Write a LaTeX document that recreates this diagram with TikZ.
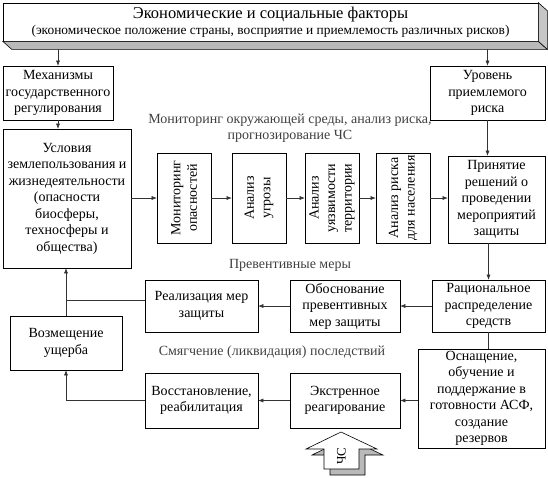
\documentclass[tikz,border=0pt]{standalone}
\usepackage{fontspec}
\setmainfont{Liberation Serif}
\usetikzlibrary{arrows.meta}

\begin{document}
\begin{tikzpicture}[
  x=1pt, y=-1pt,
  font=\fontsize{14}{16.5}\selectfont,
  box/.style   = {draw, line width=0.6pt, inner sep=2pt, align=center},
  vbox/.style  = {box, rotate=90, minimum width=90pt, minimum height=54pt},
                   % the analysis steps stand upright, text read from below
  arrow/.style = {line width=0.5pt, black!80, -{Latex[length=5pt,width=4pt]}},
  link/.style  = {line width=0.5pt, black!80},
  slab/.style  = {draw, line width=0.6pt, fill=gray!55},
  note/.style  = {align=center, text=black!75, inner sep=1pt},
]
  \useasboundingbox (0,0) rectangle (548,477);

  % the top block, drawn as a raised slab
  \node[box, minimum width=535pt, minimum height=38pt] (econ) at (270.5,22)
    {{\fontsize{16.5}{18}\selectfont Экономические и социальные факторы}\\{\fontsize{13.4}{16}\selectfont(экономическое положение страны, восприятие и приемлемость различных рисков)}};
  \draw[slab] (econ.south west) -- ++(9,8) -- ([shift={(9,8)}]econ.south east) -- (econ.south east) -- cycle;
  \draw[slab, fill=gray!45] (econ.north east) -- ++(9,8) -- ([shift={(9,8)}]econ.south east) -- (econ.south east) -- cycle;
  \coordinate (econb) at ([yshift=-8pt]econ.south);

  \node[box, minimum width=110pt, minimum height=54pt] (mech) at (58,93) {Механизмы\\государственного\\регулирования};
  \node[box, minimum width=115pt, minimum height=54pt] (lvl) at (487.5,93) {Уровень\\приемлемого\\риска};
  \node[box, minimum width=128pt, minimum height=139pt] (usl) at (67,198.5)
    {Условия\\землепользования и\\жизнедеятельности\\(опасности\\биосферы,\\техносферы и\\общества)};

  \node[note] (monlbl) at (290,128) {Мониторинг окружающей среды, анализ риска,\\прогнозирование ЧС};
  \node[vbox] (mon) at (184,198) {Мониторинг\\опасностей};
  \node[vbox] (ugr) at (259,198) {Анализ\\угрозы};
  \node[vbox] (uyaz) at (332,198) {Анализ\\уязвимости\\территории};
  \node[vbox] (risk) at (403,198) {Анализ риска\\для населения};
  \node[box, minimum width=97pt, minimum height=87pt] (prin) at (496.5,199.5) {Принятие\\решений о\\проведении\\мероприятий\\защиты};

  \node[note] (prevlbl) at (290,265) {Превентивные меры};
  \node[box, minimum width=113pt, minimum height=52pt] (rac) at (488.5,306) {Рациональное\\распределение\\средств};
  \node[box, minimum width=110pt, minimum height=52pt] (obos) at (345,306) {Обоснование\\превентивных\\мер защиты};
  \node[box, minimum width=113pt, minimum height=52pt] (real) at (201.5,306) {Реализация мер\\защиты};
  \node[box, minimum width=112pt, minimum height=54pt] (vozm) at (66,343) {Возмещение\\ущерба};

  \node[note] (mitlbl) at (272,352) {Смягчение (ликвидация) последствий};
  \node[box, minimum width=127pt, minimum height=97pt] (osn) at (481.5,398.5)
    {Оснащение,\\обучение и\\поддержание в\\готовности АСФ,\\создание\\резервов};
  \node[box, minimum width=110pt, minimum height=55pt] (ekst) at (345,400.5) {Экстренное\\реагирование};
  \node[box, minimum width=113pt, minimum height=55pt] (vost) at (201.5,400.5) {Восстановление,\\реабилитация};

  % the emergency itself: a raised block arrow under the response box
  \draw[slab] (347,438) -- (383,455) -- (365,455) -- (365,475) -- (330,475) -- (330,455) -- (312,455) -- cycle;
  \draw[line width=0.6pt, fill=white] (341,432) -- (377,449) -- (359,449) -- (359,469) -- (324,469) -- (324,449) -- (306,449) -- cycle;
  \node[rotate=90, inner sep=0pt, font=\fontsize{13}{14}\selectfont] (chs) at (341.5,456) {ЧС};

  \draw[arrow] (econb -| mech) -- (mech);
  \draw[arrow] (econb -| lvl) -- (lvl);
  \draw[arrow] (mech) -- (mech |- usl.north);
  \draw[arrow] (lvl) -- (lvl |- prin.north);

  \draw[arrow] (usl.east |- mon) -- (mon);
  \draw[arrow] (mon) -- (ugr);
  \draw[arrow] (ugr) -- (uyaz);
  \draw[arrow] (uyaz) -- (risk);
  \draw[arrow] (risk) -- (risk -| prin.west);

  \draw[arrow] (prin.south -| rac) -- (rac);
  \draw[arrow] (rac) -- (obos);
  \draw[arrow] (obos) -- (real);
  \coordinate (realout) at ([yshift=6pt]real.west);
  \draw[link] (realout) -- (realout -| vozm);
  \draw[arrow] (vozm) -- (vozm |- usl.south);

  \draw[link] (rac) -- (rac |- osn.north);
  \draw[arrow] (osn.west |- ekst) -- (ekst);
  \draw[arrow] (ekst) -- (vost);
  \draw[arrow] (vost) -| (vozm);
\end{tikzpicture}
\end{document}
